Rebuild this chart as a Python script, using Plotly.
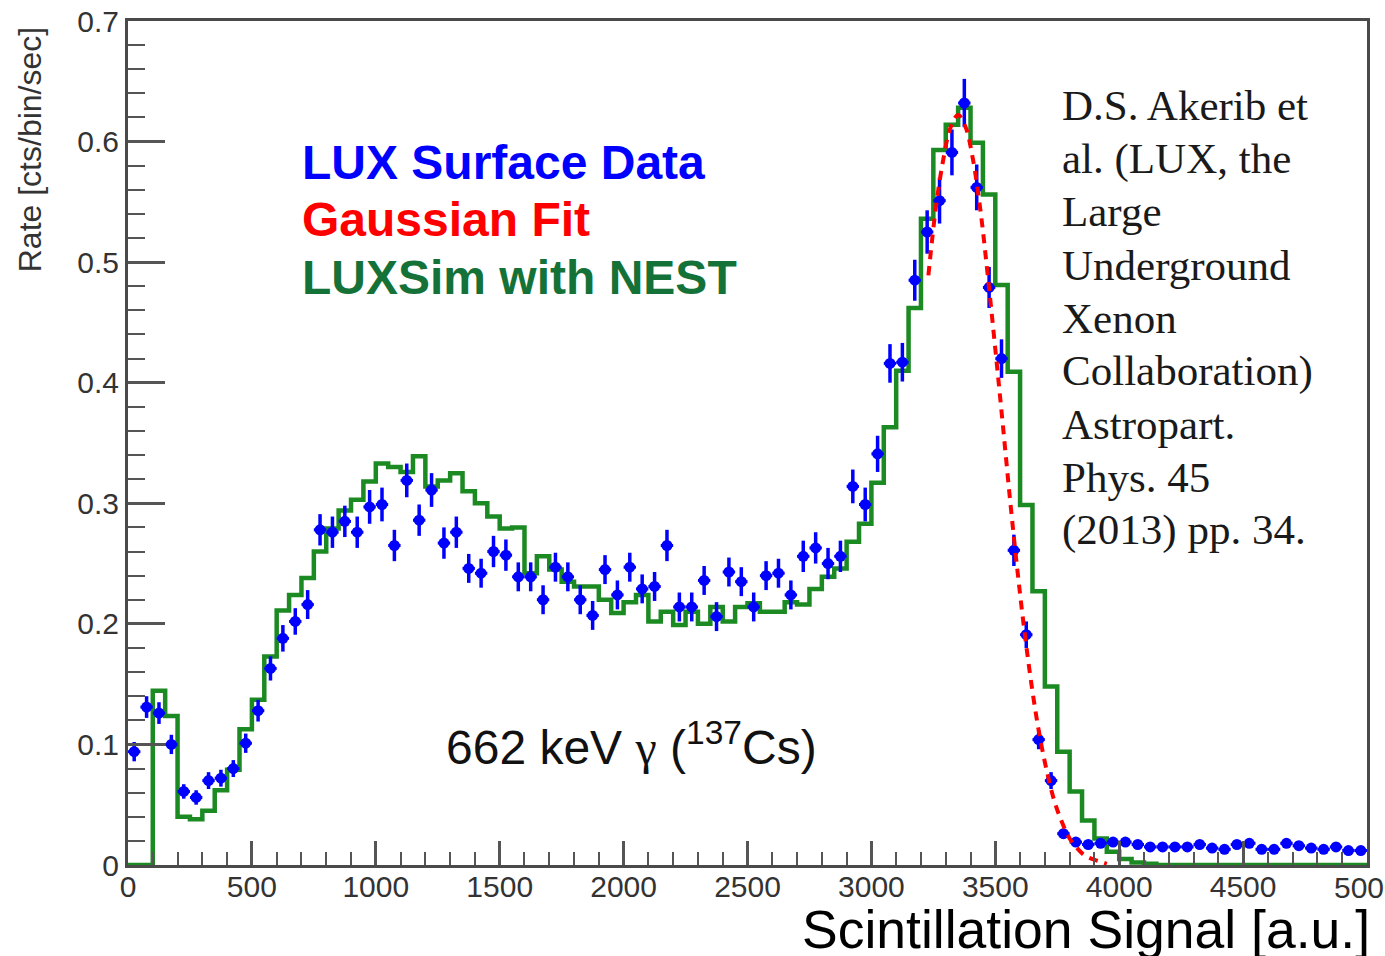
import plotly.graph_objects as go

# ---------------- data ----------------
bin_width = 50
bin_low = list(range(0, 5000, 50))          # lower bin edges, 0 .. 4950
bin_center = [b + 25 for b in bin_low]

data_rate = [
    0.094, 0.131, 0.126, 0.100, 0.061, 0.056, 0.070, 0.072, 0.080, 0.101,
    0.128, 0.163, 0.188, 0.202, 0.216, 0.278, 0.276, 0.285, 0.276, 0.297,
    0.299, 0.265, 0.319, 0.286, 0.311, 0.267, 0.276, 0.246, 0.242, 0.260,
    0.257, 0.239, 0.239, 0.220, 0.247, 0.239, 0.220, 0.207, 0.245, 0.224,
    0.247, 0.229, 0.231, 0.265, 0.214, 0.214, 0.236, 0.206, 0.243, 0.235,
    0.214, 0.240, 0.242, 0.224, 0.256, 0.263, 0.250, 0.256, 0.314, 0.299,
    0.341, 0.416, 0.417, 0.485, 0.525, 0.551, 0.591, 0.632, 0.562, 0.479,
    0.420, 0.261, 0.191, 0.104, 0.070, 0.026, 0.019, 0.017, 0.018, 0.019,
    0.019, 0.017, 0.015, 0.015, 0.015, 0.015, 0.017, 0.014, 0.013, 0.017,
    0.018, 0.013, 0.013, 0.018, 0.016, 0.014, 0.013, 0.015, 0.012, 0.012,
]

data_err = [
    0.008, 0.009, 0.009, 0.008, 0.006, 0.006, 0.007, 0.007, 0.007, 0.008,
    0.009, 0.010, 0.011, 0.011, 0.012, 0.013, 0.013, 0.013, 0.013, 0.014,
    0.014, 0.013, 0.014, 0.013, 0.014, 0.013, 0.013, 0.012, 0.012, 0.013,
    0.013, 0.012, 0.012, 0.012, 0.012, 0.012, 0.012, 0.012, 0.012, 0.012,
    0.012, 0.012, 0.012, 0.013, 0.012, 0.012, 0.012, 0.012, 0.012, 0.012,
    0.012, 0.012, 0.012, 0.012, 0.013, 0.013, 0.013, 0.013, 0.014, 0.014,
    0.015, 0.016, 0.016, 0.017, 0.018, 0.019, 0.019, 0.020, 0.019, 0.017,
    0.016, 0.013, 0.011, 0.008, 0.007, 0.004, 0.003, 0.003, 0.003, 0.003,
    0.003, 0.003, 0.003, 0.003, 0.003, 0.003, 0.003, 0.003, 0.003, 0.003,
    0.003, 0.003, 0.003, 0.003, 0.003, 0.003, 0.003, 0.003, 0.003, 0.003,
]

sim_rate = [
    0.000, 0.000, 0.1445, 0.1235, 0.040, 0.038, 0.045, 0.062, 0.079, 0.1125,
    0.137, 0.173, 0.211, 0.224, 0.238, 0.260, 0.279, 0.294, 0.303, 0.318,
    0.333, 0.330, 0.326, 0.339, 0.314, 0.319, 0.325, 0.310, 0.300, 0.289,
    0.279, 0.280, 0.242, 0.256, 0.245, 0.235, 0.231, 0.231, 0.220, 0.209,
    0.218, 0.224, 0.202, 0.210, 0.199, 0.210, 0.200, 0.214, 0.202, 0.214,
    0.217, 0.210, 0.210, 0.218, 0.216, 0.229, 0.239, 0.246, 0.268, 0.283,
    0.317, 0.363, 0.410, 0.462, 0.536, 0.593, 0.614, 0.628, 0.599, 0.556,
    0.481, 0.409, 0.2985, 0.227, 0.148, 0.094, 0.061, 0.037, 0.022, 0.011,
    0.005, 0.002, 0.001, 0.000, 0.000, 0.000, 0.000, 0.000, 0.000, 0.000,
    0.000, 0.000, 0.000, 0.000, 0.000, 0.000, 0.000, 0.000, 0.000, 0.000,
]

fit_x = [3230, 3260, 3290, 3320, 3350, 3380, 3410, 3440, 3470, 3500,
         3530, 3560, 3590, 3620, 3650, 3680, 3710, 3740, 3770, 3800,
         3830, 3860, 3890, 3920, 3950]
fit_y = [0.489, 0.545, 0.585, 0.612, 0.622, 0.612, 0.585, 0.543, 0.488, 0.428,
         0.366, 0.302, 0.243, 0.190, 0.144, 0.106, 0.076, 0.052, 0.035, 0.022,
         0.014, 0.008, 0.005, 0.003, 0.001]

x_ticks = [0, 500, 1000, 1500, 2000, 2500, 3000, 3500, 4000, 4500, 5000]
y_ticks = [0, 0.1, 0.2, 0.3, 0.4, 0.5, 0.6, 0.7]
y_tick_text = ["0", "0.1", "0.2", "0.3", "0.4", "0.5", "0.6", "0.7"]

citation_lines = ["D.S. Akerib et", "al. (LUX, the", "Large", "Underground", "Xenon",
                  "Collaboration)", "Astropart.", "Phys. 45", "(2013) pp. 34."]

# ---------------- figure ----------------
GREEN_LINE = "#1c8a22"
GREEN_TEXT = "#147238"
AXIS_COL = "#4a4a4a"
SANS = "Liberation Sans, Arial, sans-serif"
SERIF = "Liberation Serif, Times New Roman, serif"

fig = go.Figure()

# simulated histogram (steps)
fig.add_trace(go.Scatter(
    x=bin_low + [bin_low[-1] + bin_width],
    y=sim_rate + [sim_rate[-1]],
    mode="lines",
    line=dict(color=GREEN_LINE, width=4.5, shape="hv"),
    hoverinfo="skip",
    showlegend=False,
))

# data points
fig.add_trace(go.Scatter(
    x=bin_center,
    y=data_rate,
    mode="markers",
    marker=dict(color="#0000ff", size=11, line=dict(width=0)),
    error_y=dict(type="data", array=data_err, color="#0000ff", thickness=3.5, width=0),
    error_x=dict(type="constant", value=bin_width / 2, color="#0000ff", thickness=3, width=0),
    showlegend=False,
    cliponaxis=False,
))

# gaussian fit
fig.add_trace(go.Scatter(
    x=fit_x,
    y=fit_y,
    mode="lines",
    line=dict(color="#ff0000", width=4, dash="9px,7px", shape="spline"),
    showlegend=False,
))

annotations = [
    dict(x=694, y=0.583, text="<b>LUX Surface Data</b>", font=dict(color="#0000ff", size=48)),
    dict(x=694, y=0.535, text="<b>Gaussian Fit</b>", font=dict(color="#ff0000", size=48)),
    dict(x=694, y=0.487, text="<b>LUXSim with NEST</b>", font=dict(color=GREEN_TEXT, size=48)),
]
for a in annotations:
    a.update(xref="x", yref="y", xanchor="left", yanchor="middle", showarrow=False)
    a["font"]["family"] = SANS

annotations.append(dict(
    x=1276, y=0.100, xref="x", yref="y", xanchor="left", yanchor="middle", showarrow=False,
    text='662 keV <span style="font-family:Liberation Serif">γ</span> (<sup>137</sup>Cs)',
    font=dict(family=SANS, size=48, color="#111111"),
))

# citation, one line per annotation (line pitch 53 px)
for i, line in enumerate(citation_lines):
    py = 106 + 53 * i
    annotations.append(dict(
        x=(1060 - 128) / 1239, y=(865 - py) / 844, xref="paper", yref="paper",
        xanchor="left", yanchor="middle", showarrow=False, align="left",
        text=line, font=dict(family=SERIF, size=43, color="#1a1a1a"),
    ))

# last x tick label, partly cut by the right edge of the picture as in the reference
annotations.append(dict(
    x=x_ticks[-1], y=(865 - 887) / 844, xref="x", yref="paper",
    xanchor="center", yanchor="middle", showarrow=False,
    text=str(x_ticks[-1]), font=dict(family=SANS, size=30, color="#333333"),
))

annotations.append(dict(
    x=1.004, y=-0.077, xref="paper", yref="paper", xanchor="right", yanchor="middle", showarrow=False,
    text="Scintillation Signal [a.u.]",
    font=dict(family=SANS, size=53.5, color="#000000"),
))

annotations.append(dict(
    x=-0.079, y=0.847, xref="paper", yref="paper", xanchor="center", yanchor="middle", showarrow=False,
    text="Rate [cts/bin/sec]", textangle=-90,
    font=dict(family=SANS, size=32, color="#333333"),
))

fig.update_layout(
    width=1385, height=956,
    margin=dict(l=128, r=18, t=21, b=91, autoexpand=False),
    paper_bgcolor="white", plot_bgcolor="white",
    annotations=annotations,
    showlegend=False,
)

fig.update_xaxes(
    range=[0, 5000], tickvals=x_ticks[:-1], ticktext=[str(v) for v in x_ticks[:-1]],
    showgrid=False, zeroline=False, automargin=False,
    showline=True, linewidth=3, linecolor=AXIS_COL, mirror=True,
    ticks="inside", ticklen=24, tickwidth=2.5, tickcolor="#555555",
    minor=dict(dtick=100, ticks="inside", ticklen=13, tickwidth=2, tickcolor="#555555"),
    tickfont=dict(family=SANS, size=30, color="#333333"),
    ticklabelstandoff=-7,
)
fig.update_yaxes(
    range=[0, 0.7], tickvals=y_ticks, ticktext=y_tick_text,
    showgrid=False, zeroline=False, automargin=False,
    showline=True, linewidth=3, linecolor=AXIS_COL, mirror=True,
    ticks="inside", ticklen=37, tickwidth=2.5, tickcolor="#555555",
    minor=dict(dtick=0.02, ticks="inside", ticklen=17, tickwidth=2, tickcolor="#555555"),
    tickfont=dict(family=SANS, size=30, color="#333333"),
    ticklabelstandoff=0,
)

fig.write_html("out.html")
